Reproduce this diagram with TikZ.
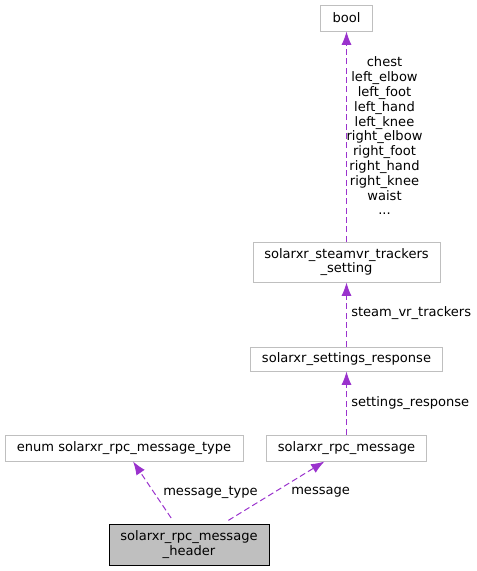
\documentclass[tikz,border=0pt]{standalone}
\usepackage{fontspec}
\setmainfont{DejaVu Sans}
\usetikzlibrary{arrows.meta}
\definecolor{edgepurple}{HTML}{9A32CD}
\definecolor{boxgrey}{HTML}{BFBFBF}
\begin{document}
\begin{tikzpicture}
[x=0.75pt, y=-0.75pt,
% STYLES
every node/.style={font=\fontsize{9.8pt}{11.1pt}\selectfont},
% The class style is used to draw the structs
class/.style={rectangle, draw=boxgrey, line width=0.75pt, fill=white, inner xsep=2pt, minimum height=19.5pt, align=center},
% The current style is used for the struct the graph is about
current/.style={class, draw=black, fill=boxgrey, minimum height=30.75pt},
% The member style is used for the edges
member/.style={draw=edgepurple, line width=0.75pt, dash pattern=on 4.5pt off 2.5pt, -{Latex[length=10pt,width=7.5pt]}},
lbl/.style={anchor=west, inner sep=0pt, align=center}]
\useasboundingbox (0,0) rectangle (477,571);

% Draw classes
\node [class, minimum width=39pt] (bool) at (346.5,18) {bool};
\node [class, minimum width=140.25pt, minimum height=30pt] (steamvr) at (346.5,262) {solarxr\_steamvr\_trackers\\\_setting};
\node [class, minimum width=144pt, minimum height=18pt] (response) at (346.5,359) {solarxr\_settings\_response};
\node [class, minimum width=120pt] (message) at (346.5,448) {solarxr\_rpc\_message};
\node [class, minimum width=178.5pt] (msgtype) at (124,448) {enum solarxr\_rpc\_message\_type};
\node [current, minimum width=120pt] (header) at (189,544.5) {solarxr\_rpc\_message\\\_header};

% Draw members
\draw [member, shorten <=5pt] (header) -- (msgtype);
\draw [member, shorten <=4.5pt] (header) -- (message);
\draw [member] (message) -- (response);
\draw [member] (response) -- (steamvr);
\draw [member] (steamvr) -- (bool);

% Draw member names
\node [lbl] (typename) at (163,492) {message\_type};
\node [lbl] (msgname) at (291,492) {message};
\node [lbl] (respname) at (351,403) {settings\_response};
\node [lbl] (steamname) at (351,313) {steam\_vr\_trackers};
\node [inner sep=0pt, align=center] (boolname) at (384.5,136) {chest\\left\_elbow\\left\_foot\\left\_hand\\left\_knee\\right\_elbow\\right\_foot\\right\_hand\\right\_knee\\waist\\...};

\end{tikzpicture}
\end{document}
